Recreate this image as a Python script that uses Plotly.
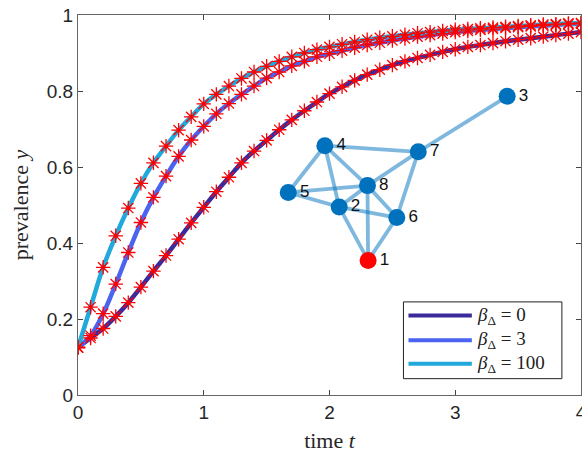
import plotly.graph_objects as go

t_vals = [round(0.1 * i, 1) for i in range(41)]

y_beta0 = [0.125, 0.150, 0.175, 0.207, 0.243, 0.284, 0.326, 0.367, 0.410, 0.453,
           0.494, 0.535, 0.573, 0.611, 0.642, 0.670, 0.698, 0.724, 0.748, 0.771,
           0.793, 0.811, 0.828, 0.843, 0.856, 0.868, 0.878, 0.887, 0.895, 0.903,
           0.910, 0.916, 0.921, 0.926, 0.931, 0.935, 0.939, 0.943, 0.947, 0.951, 0.955]
y_beta3 = [0.125, 0.156, 0.214, 0.292, 0.375, 0.454, 0.520, 0.576, 0.628, 0.671,
           0.707, 0.740, 0.767, 0.791, 0.813, 0.834, 0.850, 0.866, 0.878, 0.890,
           0.898, 0.906, 0.914, 0.921, 0.927, 0.933, 0.938, 0.943, 0.947, 0.951,
           0.955, 0.958, 0.961, 0.963, 0.966, 0.968, 0.970, 0.972, 0.974, 0.976, 0.977]
y_beta100 = [0.125, 0.231, 0.336, 0.419, 0.492, 0.557, 0.611, 0.655, 0.697, 0.732,
             0.766, 0.791, 0.813, 0.833, 0.850, 0.865, 0.878, 0.890, 0.900, 0.909,
             0.916, 0.923, 0.929, 0.935, 0.940, 0.944, 0.948, 0.952, 0.955, 0.958,
             0.961, 0.963, 0.965, 0.967, 0.969, 0.971, 0.973, 0.975, 0.976, 0.978, 0.979]

series_labels = ["0", "3", "100"]
series_colors = ["#3a2a9c", "#4a63f0", "#22a9dc"]

# network inset (drawn in data coordinates)
node_ids = [1, 2, 3, 4, 5, 6, 7, 8]
node_t = [2.307, 2.077, 3.413, 1.963, 1.672, 2.535, 2.706, 2.302]
node_y = [0.354, 0.495, 0.786, 0.656, 0.533, 0.467, 0.640, 0.551]
edges = [(3, 7), (4, 7), (4, 5), (4, 8), (4, 2), (5, 8), (5, 2), (2, 8), (2, 6),
         (2, 1), (8, 7), (8, 6), (8, 1), (7, 6), (6, 1)]
seed_node = 1

fig = go.Figure()

for ys, col in zip([y_beta0, y_beta3, y_beta100], series_colors):
    fig.add_trace(go.Scatter(x=t_vals, y=ys, mode="lines",
                             line=dict(color=col, width=4.5, shape="spline"),
                             showlegend=False, hoverinfo="skip"))
for ys in [y_beta0, y_beta3, y_beta100]:
    fig.add_trace(go.Scatter(x=t_vals, y=ys, mode="markers",
                             marker=dict(symbol="asterisk-open", size=12, color="#ff0000",
                                         line=dict(color="#ff0000", width=1.3)),
                             showlegend=False, hoverinfo="skip"))

# edges
idx = {n: i for i, n in enumerate(node_ids)}
for a, b in edges:
    fig.add_trace(go.Scatter(x=[node_t[idx[a]], node_t[idx[b]]],
                             y=[node_y[idx[a]], node_y[idx[b]]],
                             mode="lines",
                             line=dict(color="rgba(0,114,189,0.5)", width=3.8),
                             showlegend=False, hoverinfo="skip"))
node_colors = ["#ff0000" if n == seed_node else "#0072bd" for n in node_ids]
fig.add_trace(go.Scatter(x=node_t, y=node_y, mode="markers+text",
                         marker=dict(color=node_colors, size=17),
                         text=[str(n) for n in node_ids],
                         textposition="middle right",
                         textfont=dict(family="Liberation Sans, Arial", size=17, color="#111"),
                         showlegend=False, hoverinfo="skip"))

# manual legend
lx0, lx1, ly0, ly1 = 0.647, 0.962, 0.043, 0.245
fig.add_shape(type="rect", xref="paper", yref="paper", x0=lx0, x1=lx1, y0=ly0, y1=ly1,
              line=dict(color="#222", width=1), fillcolor="white", layer="above")
row_y = [0.209, 0.144, 0.082]
for ry, col, lab in zip(row_y, series_colors, series_labels):
    fig.add_shape(type="line", xref="paper", yref="paper", x0=0.657, x1=0.783,
                  y0=ry, y1=ry, line=dict(color=col, width=4), layer="above")
    fig.add_annotation(xref="paper", yref="paper", x=0.789, y=ry, xanchor="left",
                       yanchor="middle", showarrow=False,
                       text="<i>β</i><sub>Δ</sub> = " + lab,
                       font=dict(family="Liberation Serif, Times New Roman", size=19,
                                 color="#222"))

axis_common = dict(showline=True, linecolor="#666", linewidth=1, mirror="ticks",
                   ticks="inside", ticklen=5, tickcolor="#444", showgrid=False,
                   zeroline=False, automargin=False, ticklabeloverflow="allow",
                   tickfont=dict(family="Liberation Sans, Arial", size=19, color="#262626"))

fig.update_layout(
    width=582, height=460,
    margin=dict(l=78, r=1, t=15, b=65),
    plot_bgcolor="white", paper_bgcolor="white",
    xaxis=dict(range=[0, 4], tickvals=[0, 1, 2, 3, 4],
               title=dict(text="time <i>t</i>", standoff=10,
                          font=dict(family="Liberation Serif, Times New Roman", size=22,
                                    color="#262626")),
               **axis_common),
    yaxis=dict(range=[0, 1], tickvals=[0, 0.2, 0.4, 0.6, 0.8, 1],
               ticktext=["0", "0.2", "0.4", "0.6", "0.8", "1"],
               title=dict(text="prevalence <i>y</i>", standoff=12,
                          font=dict(family="Liberation Serif, Times New Roman", size=22,
                                    color="#262626")),
               **axis_common),
)

fig.write_html("out.html", config={"displayModeBar": False},
               post_script="document.body.style.margin='0';document.body.style.overflow='hidden';")
